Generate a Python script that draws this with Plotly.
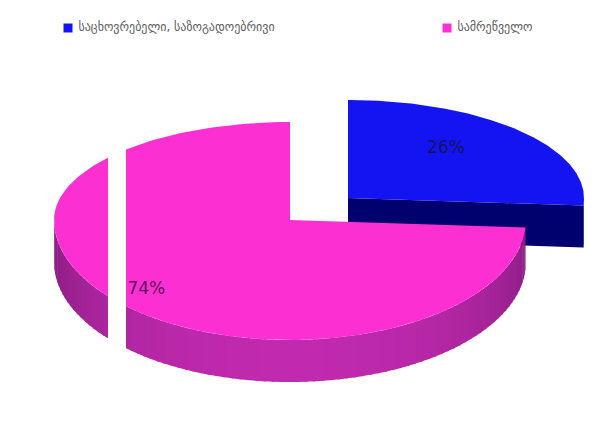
import numpy as np
import plotly.graph_objects as go

# Slice data
labels = ["საცხოვრებელი, საზოგადოებრივი", "სამრეწველო"]
values = [26, 74]
top_colors = ["#1414F2", "#FC30D2"]
side_dark = ["#00006E", "#861C80"]
side_light = ["#000090", "#C02AAE"]
text_colors = ["#14145A", "#5A1254"]

W, H = 601, 435
CX, CY = 290, 220          # pie centre on the page
RX, RY_BACK, RY_FRONT = 236, 98, 120
DEPTH = 42
PULL = [(58, -22), (0, 0)]  # exploded offset per slice
LABEL_R = [0.5, 0.8]
LABEL_SHIFT = [(12, -16), (-6, 4)]
LEGEND_POS = [(68, 28), (447, 28)]  # key square positions on the page


def ellipse_pt(theta_deg, cx, cy):
    t = np.radians(theta_deg)
    c = np.cos(t)
    ry = np.where(c > 0, RY_BACK, RY_FRONT)
    return cx + RX * np.sin(t), cy - ry * c


total = sum(values)
starts = np.cumsum([0] + values[:-1]) / total * 360
ends = np.cumsum(values) / total * 360

fig = go.Figure()


def poly(xs, ys, color):
    fig.add_trace(go.Scatter(x=list(xs) + [xs[0]], y=list(ys) + [ys[0]], mode="lines",
                             fill="toself", fillcolor=color, line=dict(width=0, color=color),
                             hoverinfo="skip", showlegend=False))


def mix(c1, c2, f):
    a = [int(c1[i:i + 2], 16) for i in (1, 3, 5)]
    b = [int(c2[i:i + 2], 16) for i in (1, 3, 5)]
    return "rgb(%d,%d,%d)" % tuple(round(a[k] + (b[k] - a[k]) * f) for k in range(3))


# slice order: back (blue) first, front (pink) over it
for i in range(len(values)):
    a0, a1 = starts[i], ends[i]
    cx, cy = CX + PULL[i][0], CY + PULL[i][1]

    # radial cut face at the end angle when it faces the viewer
    if 90 < a1 % 360 < 270 and a1 - a0 < 180:
        ex, ey = ellipse_pt(a1, cx, cy)
        poly([cx, ex, ex, cx], [cy, ey, ey + DEPTH, cy + DEPTH], side_dark[i])

    # outer wall, front half only, shaded in strips
    lo, hi = max(a0, 90), min(a1, 270)
    if hi > lo:
        n = max(2, int((hi - lo) / 2))
        edges = np.linspace(lo, hi, n + 1)
        for k in range(n):
            th = np.linspace(edges[k], edges[k + 1] + 0.6, 4)
            xs, ys = ellipse_pt(th, cx, cy)
            mid = (edges[k] + edges[k + 1]) / 2
            f = abs(np.cos(np.radians(mid)))  # lighter towards the sides
            col = mix(side_dark[i], side_light[i], f)
            poly(np.concatenate([xs, xs[::-1]]), np.concatenate([ys, ys[::-1] + DEPTH]), col)

    # top face
    th = np.linspace(a0, a1, 200)
    xs, ys = ellipse_pt(th, cx, cy)
    poly(np.concatenate([[cx], xs]), np.concatenate([[cy], ys]), top_colors[i])

    # percentage label
    mid = (a0 + a1) / 2
    t = np.radians(mid)
    c = np.cos(t)
    ry = RY_BACK if c > 0 else RY_FRONT
    lx = cx + LABEL_R[i] * RX * np.sin(t) + LABEL_SHIFT[i][0]
    ly = cy - LABEL_R[i] * ry * c + LABEL_SHIFT[i][1]
    fig.add_trace(go.Scatter(x=[lx], y=[ly], mode="text", text=[f"{values[i]}%"],
                             textfont=dict(size=17, color=text_colors[i], family="DejaVu Sans"),
                             hoverinfo="skip", showlegend=False))

# key: coloured square followed by its label
for i in range(len(values)):
    fig.add_trace(go.Scatter(x=[LEGEND_POS[i][0]], y=[LEGEND_POS[i][1]], mode="markers+text",
                             text=[" " + labels[i]], textposition="middle right",
                             textfont=dict(size=12, color="#606060", family="DejaVu Sans"),
                             marker=dict(symbol="square", size=9, color=top_colors[i]),
                             hoverinfo="skip", showlegend=False))

# light gap running down the left of the pie
fig.add_shape(type="rect", x0=108, x1=126, y0=140, y1=386, fillcolor="#FFFFFF",
              line=dict(width=0), layer="above")

fig.update_layout(
    width=W, height=H,
    margin=dict(l=0, r=0, t=0, b=0),
    paper_bgcolor="white", plot_bgcolor="white",
    xaxis=dict(range=[0, W], visible=False, fixedrange=True),
    yaxis=dict(range=[H, 0], visible=False, fixedrange=True),
    showlegend=False,
)

fig.write_html("out.html")
